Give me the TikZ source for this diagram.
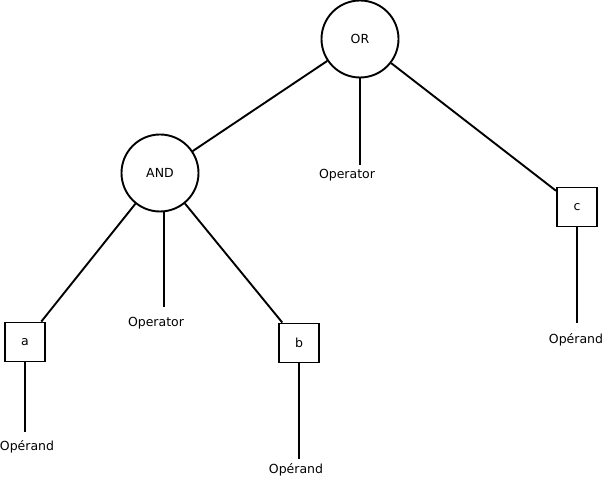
\documentclass[tikz,border=0pt]{standalone}
\usepackage{fontspec}
\setmainfont{DejaVu Sans}
\begin{document}
\begin{tikzpicture}[x=1pt,y=-1pt,line width=1.9pt,
  every node/.style={font=\fontsize{12.5}{14}\selectfont},
  opnode/.style={draw,circle,minimum size=77pt,inner sep=0pt},
  leaf/.style={draw,rectangle,minimum width=40pt,minimum height=39pt,inner sep=0pt}]

\useasboundingbox (0,0) rectangle (606,478);

\node[opnode] (OR) at (360,39) {OR};
\node[opnode] (AND) at (160,173) {AND};
\node[leaf] (a) at (25,342) {a};
\node[leaf] (b) at (299,343) {b};
\node[leaf] (c) at (577,207) {c};

\coordinate (ORop) at (360,165);
\coordinate (ANDop) at (164,307);
\coordinate (aop) at (25,432);
\coordinate (bop) at (299,459);
\coordinate (cop) at (577,323);

\node (ORlbl) at (347,175) {Operator};
\node (ANDlbl) at (156,323) {Operator};
\node (albl) at (27,447) {Opérand};
\node (blbl) at (296,470) {Opérand};
\node (clbl) at (576,340) {Opérand};

\draw (OR) -- (AND);
\draw (OR) -- (c);
\draw (AND) -- (a);
\draw (AND) -- (b);

\draw (OR) -- (ORop);
\draw (AND.south -| ANDop) -- (ANDop);
\draw (a) -- (aop);
\draw (b) -- (bop);
\draw (c) -- (cop);

\end{tikzpicture}
\end{document}
